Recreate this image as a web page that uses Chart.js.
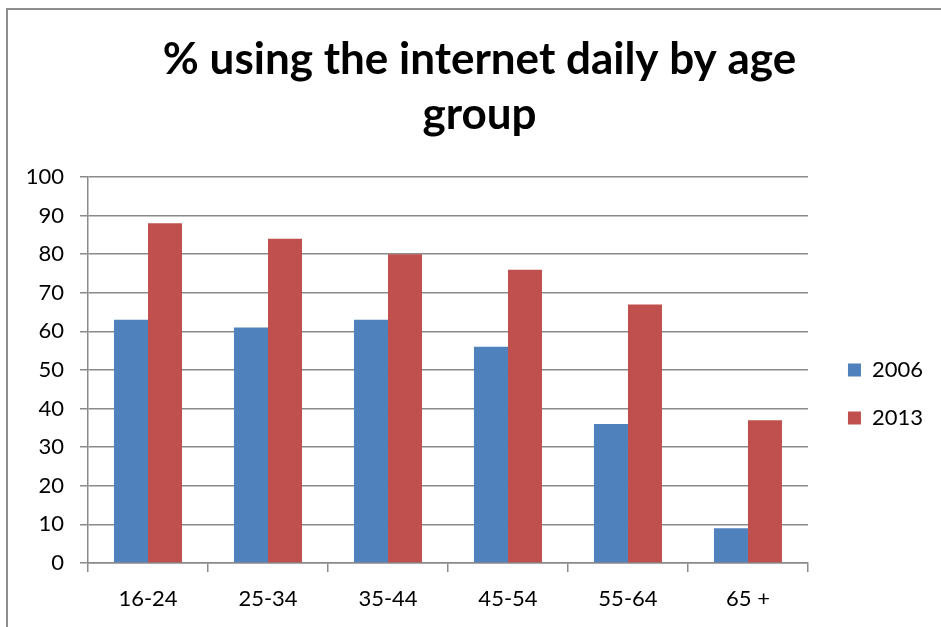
<!DOCTYPE html>
<html>
<head>
<meta charset="utf-8">
<title>% using the internet daily by age group</title>
<script src="https://cdn.jsdelivr.net/npm/chart.js@4.4.1/dist/chart.umd.min.js"></script>
<style>
  html, body { margin: 0; padding: 0; background: #fff; }
  #wrap { position: relative; width: 941px; height: 627px; }
  #frame {
    position: absolute; left: 6px; top: 8px; right: 0; bottom: 0;
    border-left: 2px solid #8e8e8e; border-top: 2px solid #8e8e8e;
    pointer-events: none;
  }
</style>
</head>
<body>
<div id="wrap">
  <canvas id="ageChart" width="941" height="627"></canvas>
  <div id="frame"></div>
</div>
<script>
// age groups and daily internet use (%)
const ageGroups = ["16-24", "25-34", "35-44", "45-54", "55-64", "65 +"];
const years = ["2006", "2013"];
const use2006 = [63, 61, 63, 56, 36, 9];
const use2013 = [88, 84, 80, 76, 67, 37];
const yTicks = [0, 10, 20, 30, 40, 50, 60, 70, 80, 90, 100];

const gridGray = "#8a8a8a";
const font = "Lato";

const data = {
  labels: ageGroups,
  datasets: [
    { label: years[0], data: use2006, backgroundColor: "#4f81bd" },
    { label: years[1], data: use2013, backgroundColor: "#c0504d" },
  ],
};

const config = {
  type: "bar",
  data: data,
  options: {
    responsive: false,
    animation: false,
    devicePixelRatio: 1,
    datasets: {
      bar: { categoryPercentage: 0.567, barPercentage: 1.0, borderWidth: 0 },
    },
    layout: { padding: { left: 26, right: 8, top: 0, bottom: 0 } },
    plugins: {
      title: {
        display: true,
        text: ["% using the internet daily by age", "group"],
        color: "#000",
        font: { family: font, size: 44, weight: "bold", lineHeight: 1.25 },
        padding: { top: 32, bottom: 35 },
      },
      legend: {
        position: "right",
        fullSize: false,
        labels: {
          color: "#000",
          font: { family: font, size: 22 },
          boxWidth: 13,
          boxHeight: 13,
          padding: 26,
          // empty first row pushes the two entries down to the middle
          generateLabels: (chart) => {
            const items = chart.data.datasets.map((ds, i) => ({
              text: ds.label,
              fillStyle: ds.backgroundColor,
              strokeStyle: ds.backgroundColor,
              lineWidth: 0,
              hidden: false,
              datasetIndex: i,
            }));
            items.unshift({ text: "", fillStyle: "rgba(0,0,0,0)", strokeStyle: "rgba(0,0,0,0)", lineWidth: 0, hidden: false });
            return items;
          },
        },
      },
      tooltip: { enabled: false },
    },
    scales: {
      x: {
        grid: {
          display: true,
          drawOnChartArea: false,
          drawTicks: true,
          tickLength: 9,
          color: gridGray,
          lineWidth: 1.5,
          offset: true,
        },
        border: { color: gridGray, width: 1.5 },
        ticks: { color: "#000", font: { family: font, size: 22 }, padding: 14, maxRotation: 0 },
        afterFit: (s) => { s.height = 64; },
      },
      y: {
        min: 0,
        max: 100,
        afterBuildTicks: (s) => { s.ticks = yTicks.map((v) => ({ value: v })); },
        grid: { color: gridGray, lineWidth: 1.5, tickLength: 8 },
        border: { color: gridGray, width: 1.5 },
        ticks: { color: "#000", font: { family: font, size: 22 }, padding: 16 },
        afterFit: (s) => { s.width = 62; },
      },
      // empty axis on the right, only keeps a gap before the legend
      gap: {
        position: "right",
        display: true,
        grid: { display: false },
        border: { display: false },
        ticks: { display: false },
        afterFit: (s) => { s.width = 14; },
      },
    },
  },
};

const ageChart = new Chart(document.getElementById("ageChart"), config);
</script>
</body>
</html>
